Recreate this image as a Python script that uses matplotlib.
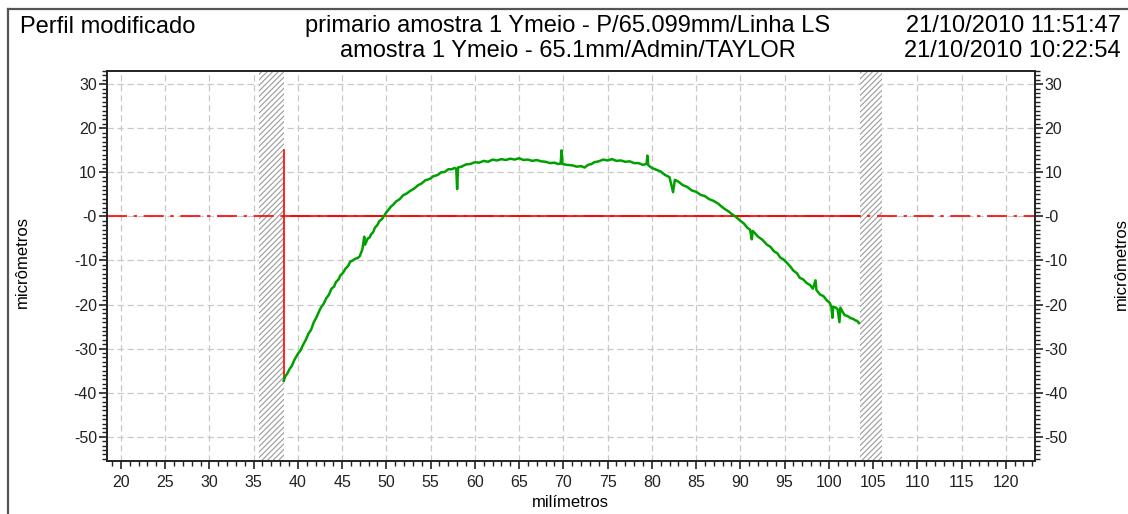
import matplotlib
matplotlib.use("Agg")
import matplotlib.pyplot as plt
from matplotlib.patches import Rectangle
from matplotlib.lines import Line2D
from matplotlib.ticker import MultipleLocator, FuncFormatter

plt.rcParams['font.family'] = ['Liberation Sans', 'DejaVu Sans']
plt.rcParams['hatch.linewidth'] = 0.8
plt.rcParams['hatch.color'] = '#9a9a9a'

# ---- data ----
title_left = "Perfil modificado"
title_mid1 = "primario amostra 1 Ymeio - P/65.099mm/Linha LS"
title_mid2 = "amostra 1 Ymeio - 65.1mm/Admin/TAYLOR"
date1 = "21/10/2010 11:51:47"
date2 = "21/10/2010 10:22:54"
xlabel = "milímetros"
ylabel = "micrômetros"

profile_x = [38.4, 38.6, 38.8, 39.1, 39.3, 39.6, 40.0, 40.3, 40.6, 40.9, 41.2, 41.5,
             41.8, 42.1, 42.5, 42.7, 42.9, 43.2, 43.5, 43.8, 44.1, 44.3, 44.6, 44.8,
             45.1, 45.4, 45.7, 45.9, 46.2, 46.5, 46.8, 47.0, 47.3, 47.5, 47.6, 47.9,
             48.1, 48.3, 48.5, 48.7, 49.0, 49.2, 49.5, 49.7, 50.0, 50.2, 50.5, 50.8,
             51.1, 51.5, 51.9, 52.3, 52.7, 53.2, 53.6, 54.0, 54.4, 54.9, 55.3, 55.8,
             56.2, 56.6, 57.0, 57.4, 57.7, 57.9, 58.0, 58.1, 58.5, 59.0, 59.5, 60.0,
             60.5, 61.0, 61.5, 62.0, 62.5, 63.0, 63.5, 64.0, 64.5, 65.0, 65.5, 66.0,
             66.5, 67.0, 67.5, 68.0, 68.5, 69.0, 69.4, 69.7, 69.8, 69.9, 70.4, 71.0,
             71.5, 72.0, 72.4, 72.8, 73.2, 73.5, 74.0, 74.5, 75.0, 75.5, 76.0, 76.5,
             77.0, 77.5, 78.0, 78.5, 79.0, 79.4, 79.5, 79.6, 80.0, 80.5, 81.0, 81.5,
             82.0, 82.4, 82.6, 83.0, 83.5, 84.0, 84.5, 85.0, 85.5, 86.0, 86.5, 87.0,
             87.5, 87.9, 88.3, 88.7, 89.0, 89.5, 90.0, 90.4, 90.8, 91.1, 91.3, 91.4,
             91.7, 92.0, 92.5, 93.0, 93.4, 93.8, 94.2, 94.5, 94.9, 95.3, 95.7, 96.0,
             96.4, 96.7, 97.1, 97.5, 97.9, 98.2, 98.5, 98.6, 99.0, 99.4, 99.8, 100.1,
             100.3, 100.4, 100.5, 100.8, 101.0, 101.2, 101.3, 101.6, 101.8, 102.1, 102.5, 102.8,
             103.0, 103.2, 103.4]
profile_y = [-37.3, -36.2, -35.7, -34.5, -34.0, -32.6, -31.2, -30.4, -29.1, -28.0, -26.6, -25.7,
             -24.0, -22.9, -21.1, -20.4, -19.9, -18.6, -17.8, -16.4, -15.9, -14.9, -14.3, -13.4,
             -12.8, -11.8, -11.2, -10.3, -10.0, -9.6, -9.4, -9.0, -7.4, -4.6, -6.4, -5.0,
             -4.8, -4.0, -3.6, -2.6, -1.9, -1.1, -0.6, 0.0, 0.9, 1.4, 2.2, 2.7,
             3.4, 3.9, 4.8, 5.2, 5.8, 6.4, 7.1, 7.5, 8.2, 8.5, 9.1, 9.4,
             10.0, 10.1, 10.7, 10.7, 11.0, 10.8, 6.2, 11.1, 11.3, 11.8, 11.9, 12.3,
             12.2, 12.6, 12.4, 12.9, 12.7, 13.0, 12.8, 13.1, 12.9, 13.2, 12.8, 12.9,
             12.6, 12.8, 12.5, 12.4, 12.1, 12.2, 11.9, 12.0, 15.0, 11.9, 11.7, 11.6,
             11.3, 11.4, 11.1, 11.7, 11.9, 12.3, 12.5, 12.9, 12.7, 13.0, 12.6, 12.7,
             12.4, 12.5, 12.1, 12.1, 11.7, 11.9, 13.8, 11.6, 11.0, 10.6, 10.2, 9.4,
             8.9, 5.5, 8.3, 7.9, 7.1, 6.7, 5.9, 5.6, 4.9, 4.6, 3.9, 3.5,
             2.9, 2.2, 1.6, 1.1, 0.6, -0.1, -1.0, -1.6, -2.6, -3.0, -5.2, -3.3,
             -3.9, -4.6, -5.3, -6.4, -6.9, -7.9, -8.4, -9.3, -9.8, -10.6, -11.5, -12.3,
             -12.9, -13.9, -14.3, -15.1, -15.6, -16.4, -14.5, -16.7, -17.7, -18.1, -19.1, -19.6,
             -20.6, -23.0, -20.5, -20.7, -21.1, -24.0, -20.7, -21.8, -22.4, -22.6, -23.1, -23.3,
             -23.6, -23.7, -24.2]

start_x = 38.4
end_x = 103.5
red_top = 15.0
hatch_left = (35.6, 38.4)
hatch_right = (103.5, 106.0)

x_limits = (18.4, 123.3)
y_limits = (-55.5, 33.0)

# ---- figure ----
W, H = 1128, 514
fig = plt.figure(figsize=(W / 100, H / 100), dpi=100)
ax = fig.add_axes([106.7 / W, 1 - 461 / H, (1035 - 106.7) / W, (461 - 71) / H])

# outer frame
fig.add_artist(Line2D([8 / W, 8 / W], [0, 1 - 9 / H], color='#555555', lw=1.6, transform=fig.transFigure))
fig.add_artist(Line2D([8 / W, 1], [1 - 9 / H, 1 - 9 / H], color='#555555', lw=1.6, transform=fig.transFigure))

ax.set_xlim(*x_limits)
ax.set_ylim(*y_limits)

ax.grid(True, which='major', color='#c8c8c8', linestyle=(0, (5, 3)), lw=0.9)
ax.set_axisbelow(True)

for (a, b) in (hatch_left, hatch_right):
    ax.add_patch(Rectangle((a, y_limits[0]), b - a, y_limits[1] - y_limits[0],
                           facecolor='white', edgecolor='#9a9a9a', hatch='//////', lw=0, zorder=1.5))

ax.plot([x_limits[0], x_limits[1]], [0, 0], color='red', lw=1.2,
        linestyle=(0, (12, 4, 2, 4)), zorder=2)
ax.plot([start_x, end_x], [0, 0], color='red', lw=1.2, zorder=2.1)
ax.plot([start_x, start_x], [profile_y[0], red_top], color='red', lw=1.2, zorder=2.1)

ax.plot(profile_x, profile_y, color='#00a000', lw=1.8, zorder=3)

# ticks
ax.xaxis.set_major_locator(MultipleLocator(5))
ax.xaxis.set_minor_locator(MultipleLocator(1))
ax.yaxis.set_major_locator(MultipleLocator(10))
ax.yaxis.set_minor_locator(MultipleLocator(1))

def yfmt(v, pos):
    iv = int(round(v))
    return "-0" if iv == 0 else str(iv)

ax.yaxis.set_major_formatter(FuncFormatter(yfmt))
ax.xaxis.set_major_formatter(FuncFormatter(lambda v, p: str(int(round(v)))))
ax.tick_params(axis='both', which='major', direction='out', length=6, width=1.2,
               labelsize=11.5, colors='#222222', pad=1)
ax.tick_params(axis='x', which='major', pad=4)
ax.tick_params(axis='both', which='minor', direction='out', length=3.5, width=1.0, colors='#222222')
ax.tick_params(axis='y', which='both', left=True, right=True, labelleft=True, labelright=True)
ax.tick_params(axis='x', which='both', top=False)

for s in ('top', 'left', 'right', 'bottom'):
    ax.spines[s].set_linewidth(1.4)
    ax.spines[s].set_color('#222222')

ax.set_xlabel(xlabel, fontsize=12, labelpad=4)
fig.text(22 / W, 1 - 262 / H, ylabel, rotation=90, ha='center', va='center', fontsize=12)
fig.text(1121 / W, 1 - 264 / H, ylabel, rotation=90, ha='center', va='center', fontsize=12)

fig.text(20 / W, 1 - 27 / H, title_left, ha='left', va='center', fontsize=17)
fig.text(568 / W, 1 - 26 / H, title_mid1, ha='center', va='center', fontsize=17)
fig.text(568 / W, 1 - 51 / H, title_mid2, ha='center', va='center', fontsize=17)
fig.text(1121 / W, 1 - 26 / H, date1, ha='right', va='center', fontsize=17)
fig.text(1121 / W, 1 - 51 / H, date2, ha='right', va='center', fontsize=17)

fig.savefig("out.png", dpi=100)
